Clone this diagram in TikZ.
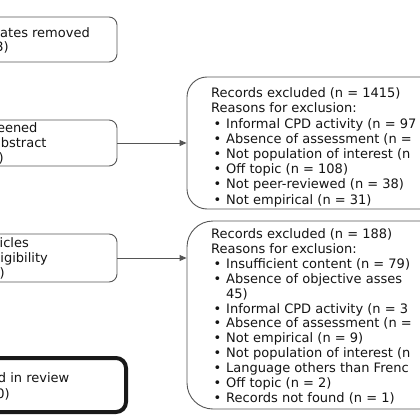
\documentclass[tikz,border=0pt]{standalone}
\usepackage{fontspec}
\setmainfont{DejaVu Sans}
\usetikzlibrary{arrows.meta}
\definecolor{boxgray}{RGB}{85,85,85}
\definecolor{txtcol}{RGB}{20,20,20}
\newcommand\bitem{\makebox[15pt][l]{\hspace{2.5pt}•}}
\newcommand\bcont{\makebox[15pt][l]{}}
\begin{document}
\begin{tikzpicture}[x=1pt,y=-1pt,
  lbox/.style={draw=boxgray, line width=0.9pt, rounded corners=8pt, inner sep=0pt, fill=white},
  incbox/.style={draw=black!90, line width=4pt, rounded corners=10pt, inner sep=0pt, fill=white},
  rbox/.style={draw=boxgray, line width=0.9pt, inner sep=0pt, fill=white},
  txt/.style={inner sep=0pt, text=txtcol, font=\fontsize{13}{15}\selectfont},
  conn/.style={draw=boxgray, line width=0.9pt, -{Triangle[length=7pt,width=6pt]}}]
\useasboundingbox (0,0) rectangle (420,420);
\fill[white] (0,0) rectangle (420,420);
\begin{scope}
\clip (0,0) rectangle (420,420);
% left boxes
\node[lbox, minimum width=147pt, minimum height=45pt] (dup) at (43.5,39.5) {};
\node[lbox, minimum width=147pt, minimum height=46pt] (scr) at (43.5,143) {};
\node[lbox, minimum width=147pt, minimum height=48pt] (elig) at (43.5,258) {};
\node[incbox, minimum width=156pt, minimum height=54pt] (inc) at (48,385) {};
% right boxes
\node[rbox, rounded corners=20pt, minimum width=333pt, minimum height=132pt] (ex1) at (353.5,143) {};
\node[rbox, rounded corners=26pt, minimum width=333pt, minimum height=188pt] (ex2) at (353.5,315) {};
% left texts
\node[txt, anchor=base east] (dup1) at (90,37.5) {ates removed};
\node[txt, anchor=base east] (dup2) at (9,51.5) {3)};
\node[txt, anchor=base east] (scr1) at (37.7,132.3) {eened};
\node[txt, anchor=base east] (scr2) at (46.7,147.7) {bstract};
\node[txt, anchor=base east] (scr3) at (4,162.5) {)};
\node[txt, anchor=base east] (elig1) at (29,247.3) {icles};
\node[txt, anchor=base east] (elig2) at (48,262.3) {igibility};
\node[txt, anchor=base east] (elig3) at (5,277.8) {)};
\node[txt, anchor=base east] (inc1) at (69.5,382.7) {d in review};
\node[txt, anchor=base east] (inc2) at (10,398) {0)};
% right texts
\foreach [count=\i] \t in {Records excluded (n = 1415),
  Reasons for exclusion:,
  \bitem Informal CPD activity (n = 97,
  \bitem Absence of assessment (n =,
  \bitem Not population of interest (n,
  \bitem Off topic (n = 108),
  \bitem Not peer-reviewed (n = 38),
  \bitem Not empirical (n = 31)}
  \node[txt, anchor=base west] (ea\i) at (211,{97.7+15.2*(\i-1)}) {\t};
\foreach [count=\i] \t in {Records excluded (n = 188),
  Reasons for exclusion:,
  \bitem Insufficient content (n = 79),
  \bitem Absence of objective asses,
  \bcont 45),
  \bitem Informal CPD activity (n = 3,
  \bitem Absence of assessment (n =,
  \bitem Not empirical (n = 9),
  \bitem Not population of interest (n,
  \bitem Language others than Frenc,
  \bitem Off topic (n = 2),
  \bitem Records not found (n = 1)}
  \node[txt, anchor=base west] (eb\i) at (211,{238.3+14.94*(\i-1)}) {\t};
% connectors
\draw[conn] (scr.east) -- (ex1.west);
\draw[conn] (elig.east) -- (elig.east -| ex2.west);
\end{scope}
\end{tikzpicture}
\end{document}
